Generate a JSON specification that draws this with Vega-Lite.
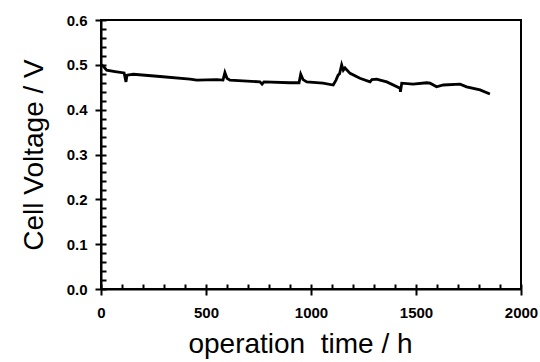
{
  "$schema": "https://vega.github.io/schema/vega-lite/v6.json",
  "width": 420,
  "height": 269,
  "autosize": {"type": "none"},
  "padding": {"left": 101, "top": 20, "right": 19, "bottom": 73},
  "background": "white",
  "config": {
    "view": {"stroke": "black", "strokeWidth": 2},
    "axis": {"domainColor": "black", "domainWidth": 2, "tickColor": "black", "tickWidth": 2, "labelColor": "black", "titleColor": "black", "labelFont": "Liberation Sans", "titleFont": "Liberation Sans", "gridColor": "black", "gridWidth": 2, "gridOpacity": 1}
  },
  "data": {"values": [
    {"t": 3, "v": 0.500},
    {"t": 14, "v": 0.495},
    {"t": 27, "v": 0.488},
    {"t": 67, "v": 0.485},
    {"t": 110, "v": 0.482},
    {"t": 119, "v": 0.462},
    {"t": 124, "v": 0.477},
    {"t": 154, "v": 0.479},
    {"t": 281, "v": 0.474},
    {"t": 424, "v": 0.468},
    {"t": 456, "v": 0.466},
    {"t": 551, "v": 0.467},
    {"t": 581, "v": 0.466},
    {"t": 590, "v": 0.483},
    {"t": 600, "v": 0.470},
    {"t": 614, "v": 0.466},
    {"t": 757, "v": 0.462},
    {"t": 767, "v": 0.457},
    {"t": 776, "v": 0.462},
    {"t": 900, "v": 0.460},
    {"t": 943, "v": 0.460},
    {"t": 951, "v": 0.479},
    {"t": 962, "v": 0.467},
    {"t": 980, "v": 0.462},
    {"t": 1057, "v": 0.459},
    {"t": 1106, "v": 0.455},
    {"t": 1119, "v": 0.466},
    {"t": 1129, "v": 0.477},
    {"t": 1136, "v": 0.480},
    {"t": 1146, "v": 0.500},
    {"t": 1154, "v": 0.488},
    {"t": 1162, "v": 0.493},
    {"t": 1186, "v": 0.481},
    {"t": 1233, "v": 0.470},
    {"t": 1281, "v": 0.462},
    {"t": 1290, "v": 0.467},
    {"t": 1313, "v": 0.468},
    {"t": 1329, "v": 0.466},
    {"t": 1361, "v": 0.462},
    {"t": 1424, "v": 0.448},
    {"t": 1426, "v": 0.440},
    {"t": 1432, "v": 0.459},
    {"t": 1486, "v": 0.457},
    {"t": 1551, "v": 0.460},
    {"t": 1567, "v": 0.459},
    {"t": 1598, "v": 0.451},
    {"t": 1630, "v": 0.455},
    {"t": 1710, "v": 0.457},
    {"t": 1741, "v": 0.451},
    {"t": 1805, "v": 0.444},
    {"t": 1852, "v": 0.435}
  ]},
  "mark": {"type": "line", "color": "black", "strokeWidth": 2.8, "interpolate": "linear"},
  "encoding": {
    "x": {"field": "t", "type": "quantitative", "scale": {"domain": [0, 2000], "nice": false, "zero": false},
      "axis": {"orient": "bottom", "values": [0, 100, 200, 300, 400, 500, 600, 700, 800, 900, 1000, 1100, 1200, 1300, 1400, 1500, 1600, 1700, 1800, 1900, 2000],
        "labelExpr": "datum.value % 500 === 0 ? format(datum.value, 'd') : ''",
        "labelOverlap": false,
        "tickSize": 6,
        "tickOpacity": {"condition": {"test": "datum.value % 500 === 0", "value": 1}, "value": 0},
        "grid": true, "gridDash": [5, 264], "gridDashOffset": 5,
        "labelFontSize": 15, "labelFontWeight": "bold", "labelPadding": 10, "labelFlush": false,
        "title": "operation\u00a0\u00a0time / h", "titleFontSize": 28, "titleFontWeight": "normal", "titlePadding": 10, "titleX": 199}},
    "y": {"field": "v", "type": "quantitative", "scale": {"domain": [0, 0.6], "nice": false, "zero": false},
      "axis": {"orient": "left", "values": [0, 0.02, 0.04, 0.06, 0.08, 0.1, 0.12, 0.14, 0.16, 0.18, 0.2, 0.22, 0.24, 0.26, 0.28, 0.3, 0.32, 0.34, 0.36, 0.38, 0.4, 0.42, 0.44, 0.46, 0.48, 0.5, 0.52, 0.54, 0.56, 0.58, 0.6],
        "labelExpr": "abs(datum.value * 10 - round(datum.value * 10)) < 0.001 ? format(datum.value, '.1f') : ''",
        "labelOverlap": false,
        "tickSize": 6,
        "tickOpacity": {"condition": {"test": "abs(datum.value * 10 - round(datum.value * 10)) < 0.001", "value": 1}, "value": 0},
        "grid": true, "gridDash": [5, 415], "gridDashOffset": 0,
        "labelFontSize": 15, "labelFontWeight": "bold", "labelPadding": 8, "labelFlush": false,
        "title": "Cell Voltage / V", "titleFontSize": 28, "titleFontWeight": "normal", "titlePadding": 18}}
  }
}
